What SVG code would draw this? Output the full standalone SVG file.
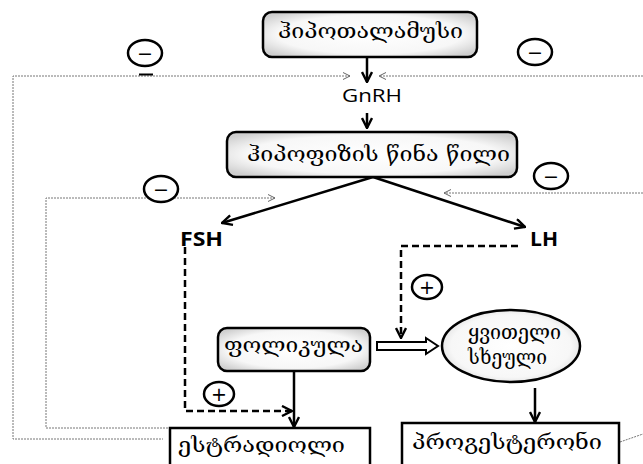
<svg xmlns="http://www.w3.org/2000/svg" width="643" height="464" viewBox="0 0 643 464">
<defs>
<radialGradient id="g" cx="50%" cy="50%" r="62%">
<stop offset="0" stop-color="#ffffff"/>
<stop offset="0.7" stop-color="#f7f7f7"/>
<stop offset="1" stop-color="#cfcfcf"/>
</radialGradient>
<marker id="ah" viewBox="0 0 12 12" refX="11" refY="6" markerWidth="12" markerHeight="12" markerUnits="userSpaceOnUse" orient="auto">
<path d="M1,1 L11,6 L1,11" fill="none" stroke="#000" stroke-width="2.4"/>
</marker>
</defs>
<style>
.geo{font-family:"DejaVu Serif","DejaVu Sans",serif;font-size:20px;fill:#000}
.lat{font-family:"Open Sans","DejaVu Sans",sans-serif;fill:#000}
.box{fill:url(#g);stroke:#000;stroke-width:2.5}
.plain{fill:#fff;stroke:#000;stroke-width:2.5}
.solid{fill:none;stroke:#000;stroke-width:2.5}
.dash{fill:none;stroke:#000;stroke-width:2.5;stroke-dasharray:7,4}
.dot{fill:none;stroke:#777;stroke-width:1;stroke-dasharray:2,1}
.oarr{fill:none;stroke:#666;stroke-width:1}
.sign{fill:#fff;stroke:#000;stroke-width:2.5}
.sym{font-family:"DejaVu Sans",sans-serif;font-size:19px;text-anchor:middle;fill:#000}
</style>
<rect width="643" height="464" fill="#fff"/>

<g id="connectors">
<path class="dot" d="M350,76 H13 V439 H163"/>
<path class="dot" d="M643,76 H379"/>
<path class="dot" d="M275,198 H46 V428 H168"/>
<path class="dot" d="M643,193 H444"/>
<path class="dot" d="M620,442 L643,434"/>
<path class="oarr" d="M350,76 l-7,-3.5 M350,76 l-7,3.5"/>
<path class="oarr" d="M379,76 l7,-3.5 M379,76 l7,3.5"/>
<path class="oarr" d="M275,198 l-7,-3.5 M275,198 l-7,3.5"/>
<path class="oarr" d="M444,193 l7,-3.5 M444,193 l7,3.5"/>
<line x1="139" y1="74.5" x2="153" y2="74.5" stroke="#000" stroke-width="2"/>
<path class="solid" d="M367,57 V82" marker-end="url(#ah)"/>
<path class="solid" d="M367,113 V128" marker-end="url(#ah)"/>
<path class="solid" d="M373,177 L222,223" marker-end="url(#ah)"/>
<path class="solid" d="M373,177 L525,227" marker-end="url(#ah)"/>
<path class="dash" d="M185,247 V411 H292" marker-end="url(#ah)"/>
<path class="dash" d="M518,246 H401 V338" marker-end="url(#ah)"/>
<path class="solid" d="M294,371 V427" marker-end="url(#ah)"/>
<path class="solid" d="M535,388 V422" marker-end="url(#ah)"/>
<path d="M377,342 H426 V338 L438,346 L426,354 V350 H377 Z" fill="#fff" stroke="#000" stroke-width="2"/>
</g>

<g id="hypothalamus">
<rect class="box" x="263" y="12" width="214" height="45" rx="9"/>
<text class="geo" x="278" y="38" textLength="185" lengthAdjust="spacingAndGlyphs">ჰიპოთალამუსი</text>
</g>
<g id="gnrh">
<text class="lat" x="342" y="102" font-size="18" textLength="60" lengthAdjust="spacingAndGlyphs">GnRH</text>
</g>
<g id="pituitary">
<rect class="box" x="227" y="132" width="290" height="45" rx="9"/>
<text class="geo" x="247" y="161" textLength="263" lengthAdjust="spacingAndGlyphs">ჰიპოფიზის წინა წილი</text>
</g>
<g id="fsh">
<text class="lat" x="180" y="246" font-size="19" font-weight="bold" textLength="43" lengthAdjust="spacingAndGlyphs">FSH</text>
</g>
<g id="lh">
<text class="lat" x="530" y="246" font-size="19" font-weight="bold" textLength="28" lengthAdjust="spacingAndGlyphs">LH</text>
</g>
<g id="follicle">
<rect class="box" x="218" y="328" width="152" height="43" rx="9"/>
<text class="geo" x="224" y="352" textLength="139" lengthAdjust="spacingAndGlyphs">ფოლიკულა</text>
</g>
<g id="corpus-luteum">
<ellipse class="box" cx="511" cy="346" rx="69" ry="36"/>
<text class="geo" x="468" y="339" textLength="93" lengthAdjust="spacingAndGlyphs">ყვითელი</text>
<text class="geo" x="468" y="364" textLength="79" lengthAdjust="spacingAndGlyphs">სხეული</text>
</g>
<g id="estradiol">
<rect class="plain" x="170" y="428" width="200" height="42"/>
<text class="geo" x="178" y="452" textLength="167" lengthAdjust="spacingAndGlyphs">ესტრადიოლი</text>
</g>
<g id="progesterone">
<rect class="plain" x="402" y="423" width="217" height="47"/>
<text class="geo" x="412" y="449" textLength="190" lengthAdjust="spacingAndGlyphs">პროგესტერონი</text>
</g>

<g id="signs">
<ellipse class="sign" cx="145" cy="53" rx="17" ry="13"/>
<text class="sym" x="145" y="59.5">−</text>
<ellipse class="sign" cx="535" cy="52" rx="17" ry="13"/>
<text class="sym" x="535" y="58.5">−</text>
<ellipse class="sign" cx="161" cy="189" rx="17" ry="13"/>
<text class="sym" x="161" y="195.5">−</text>
<ellipse class="sign" cx="551" cy="176" rx="17" ry="13"/>
<text class="sym" x="551" y="182.5">−</text>
<ellipse class="sign" cx="427" cy="287" rx="15" ry="12"/>
<text class="sym" x="427" y="293.5">+</text>
<ellipse class="sign" cx="219" cy="394" rx="15" ry="12"/>
<text class="sym" x="219" y="400.5">+</text>
</g>
</svg>
